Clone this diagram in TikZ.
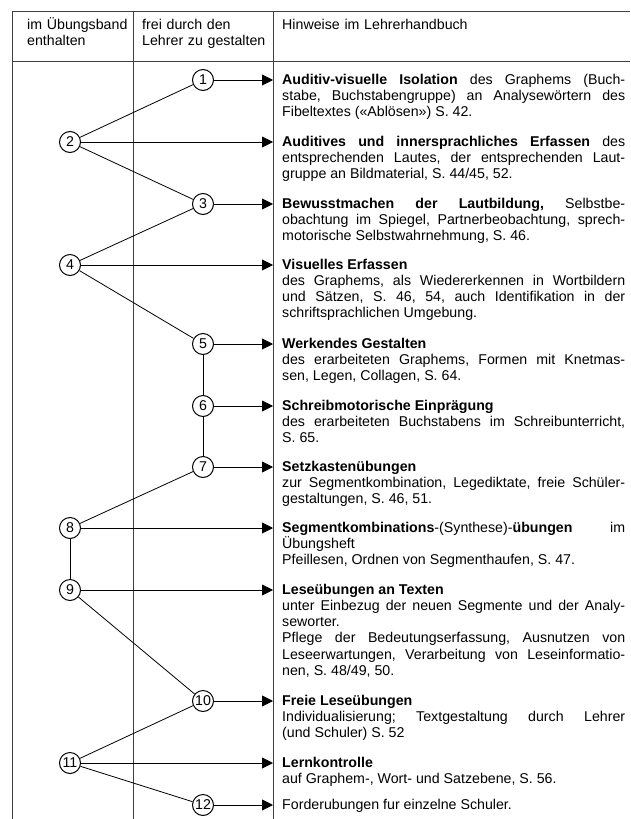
\documentclass[tikz,border=0pt]{standalone}
\usepackage{fontspec}
\setmainfont{Liberation Sans}
\usetikzlibrary{arrows.meta}
\frenchspacing

\begin{document}
\begin{tikzpicture}[
    x=1pt, y=-1pt,
    font=\fontsize{14.2}{16.3}\selectfont,
    num/.style={draw, circle, line width=1pt, minimum size=21pt, inner sep=0pt},
    hint/.style={anchor=base west, xshift=9pt, yshift=-4pt, text width=343pt, inner sep=0pt,
      align=justify,
      execute at begin node={\tolerance=10000\pretolerance=10000\hbadness=10000}},
    head/.style={anchor=base west, text width=125pt, inner sep=0pt, align=left},
    grid/.style={line width=0.7pt, black!75},
    link/.style={line width=0.8pt},
    pointer/.style={line width=0.9pt, -{Triangle[length=11pt,width=11pt]}}
    ]

    \useasboundingbox (0,0) rectangle (630,819);

    % table
    \draw[grid] (12,11) -- (630,11) (12,61) -- (630,61);
    \draw[grid] (12,11) -- (12,819) (133,11) -- (133,819) (273,11) -- (273,819);
    \coordinate (rule) at (273,0);

    \node[head] (hda) at (27,29) {im Übungsband\\enthalten};
    \node[head] (hdb) at (142,29) {frei durch den\\Lehrer zu gestalten};
    \node[head, text width=330pt] (hdc) at (282,29) {Hinweise im Lehrerhandbuch};

    % steps
    \node[num] (c1) at (203,80) {1};
    \node[num] (c2) at (70,142) {2};
    \node[num] (c3) at (203,204) {3};
    \node[num] (c4) at (70,265) {4};
    \node[num] (c5) at (203,344) {5};
    \node[num] (c6) at (203,406) {6};
    \node[num] (c7) at (203,467) {7};
    \node[num] (c8) at (70,528) {8};
    \node[num] (c9) at (70,590) {9};
    \node[num] (c10) at (203,701) {10};
    \node[num] (c11) at (70,763) {11};
    \node[num] (c12) at (203,805) {12};

    \path[link] (c2) edge (c1)
    (c2) edge (c3)
    (c4) edge (c3)
    (c4) edge (c5)
    (c5) edge (c6)
    (c6) edge (c7)
    (c8) edge (c7)
    (c8) edge (c9)
    (c9) edge (c10)
    (c11) edge (c10)
    (c11) edge (c12)
    ;

    \path (c1) edge[pointer] (c1 -| rule)
    (c2) edge[pointer] (c2 -| rule)
    (c3) edge[pointer] (c3 -| rule)
    (c4) edge[pointer] (c4 -| rule)
    (c5) edge[pointer] (c5 -| rule)
    (c6) edge[pointer] (c6 -| rule)
    (c7) edge[pointer] (c7 -| rule)
    (c8) edge[pointer] (c8 -| rule)
    (c9) edge[pointer] (c9 -| rule)
    (c10) edge[pointer] (c10 -| rule)
    (c11) edge[pointer] (c11 -| rule)
    (c12) edge[pointer] (c12 -| rule)
    ;

    % hints
    \node[hint] (h1) at (c1 -| rule) {\textbf{Auditiv-visuelle Isolation} des Graphems (Buch-\linebreak
      stabe, Buchstabengruppe) an Analysewörtern des\linebreak
      Fibeltextes («Ablösen») S.~42.};
    \node[hint] (h2) at (c2 -| rule) {\textbf{Auditives und innersprachliches Erfassen} des\linebreak
      entsprechenden Lautes, der entsprechenden Laut-\linebreak
      gruppe an Bildmaterial, S.~44/45, 52.};
    \node[hint] (h3) at (c3 -| rule) {\textbf{Bewusstmachen der Lautbildung,} Selbstbe-\linebreak
      obachtung im Spiegel, Partnerbeobachtung, sprech-\linebreak
      motorische Selbstwahrnehmung, S.~46.};
    \node[hint] (h4) at (c4 -| rule) {\textbf{Visuelles Erfassen}\newline
      des Graphems, als Wiedererkennen in Wortbildern\linebreak
      und Sätzen, S.~46, 54, auch Identifikation in der\linebreak
      schriftsprachlichen Umgebung.};
    \node[hint] (h5) at (c5 -| rule) {\textbf{Werkendes Gestalten}\newline
      des erarbeiteten Graphems, Formen mit Knetmas-\linebreak
      sen, Legen, Collagen, S.~64.};
    \node[hint] (h6) at (c6 -| rule) {\textbf{Schreibmotorische Einprägung}\newline
      des erarbeiteten Buchstabens im Schreibunterricht,\linebreak
      S.~65.};
    \node[hint] (h7) at (c7 -| rule) {\textbf{Setzkastenübungen}\newline
      zur Segmentkombination, Legediktate, freie Schüler-\linebreak
      gestaltungen, S.~46, 51.};
    \node[hint] (h8) at (c8 -| rule) {\textbf{Segmentkombinations}-(Synthese)-\textbf{übungen} im\linebreak
      Übungsheft\newline
      Pfeillesen, Ordnen von Segmenthaufen, S.~47.};
    \node[hint] (h9) at (c9 -| rule) {\textbf{Leseübungen an Texten}\newline
      unter Einbezug der neuen Segmente und der Analy-\linebreak
      seworter.\newline
      Pflege der Bedeutungserfassung, Ausnutzen von\linebreak
      Leseerwartungen, Verarbeitung von Leseinformatio-\linebreak
      nen, S.~48/49, 50.};
    \node[hint] (h10) at (c10 -| rule) {\textbf{Freie Leseübungen}\newline
      Individualisierung; Textgestaltung durch Lehrer\linebreak
      (und Schuler) S.~52};
    \node[hint] (h11) at (c11 -| rule) {\textbf{Lernkontrolle}\newline
      auf Graphem-, Wort- und Satzebene, S.~56.};
    \node[hint] (h12) at (c12 -| rule) {Forderubungen fur einzelne Schuler.};

  \end{tikzpicture}
\end{document}
